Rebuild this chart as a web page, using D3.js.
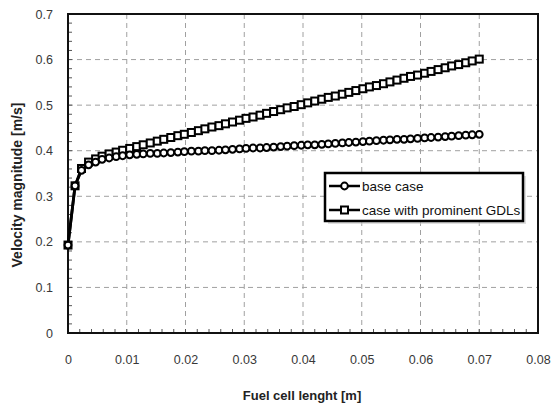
<!DOCTYPE html>
<html>
<head>
<meta charset="utf-8">
<script src="https://cdn.jsdelivr.net/npm/d3@7"></script>
<style>
  body { margin: 0; background: #fff; }
  svg { display: block; font-family: "Liberation Sans", Arial, sans-serif; }
</style>
</head>
<body>
<svg id="chart" width="552" height="409"></svg>
<script>
// fuel cell length positions [m]
const xPos = [0.0000, 0.0012, 0.0023, 0.0035, 0.0047, 0.0058, 0.0070, 0.0082, 0.0093, 0.0105,
  0.0117, 0.0128, 0.0140, 0.0152, 0.0163, 0.0175, 0.0187, 0.0198, 0.0210, 0.0222,
  0.0233, 0.0245, 0.0257, 0.0268, 0.0280, 0.0292, 0.0303, 0.0315, 0.0327, 0.0338,
  0.0350, 0.0362, 0.0373, 0.0385, 0.0397, 0.0408, 0.0420, 0.0432, 0.0443, 0.0455,
  0.0467, 0.0478, 0.0490, 0.0502, 0.0513, 0.0525, 0.0537, 0.0548, 0.0560, 0.0572,
  0.0583, 0.0595, 0.0607, 0.0618, 0.0630, 0.0642, 0.0653, 0.0665, 0.0677, 0.0688, 0.0700];

const baseCase = [0.193, 0.323, 0.357, 0.369, 0.375, 0.381, 0.384, 0.387, 0.389, 0.391,
  0.392, 0.393, 0.394, 0.394, 0.395, 0.396, 0.397, 0.398, 0.399, 0.399,
  0.400, 0.400, 0.401, 0.402, 0.403, 0.404, 0.405, 0.406, 0.406, 0.407,
  0.408, 0.409, 0.410, 0.411, 0.412, 0.413, 0.413, 0.414, 0.415, 0.416,
  0.417, 0.418, 0.419, 0.420, 0.421, 0.422, 0.423, 0.424, 0.425, 0.425,
  0.426, 0.427, 0.428, 0.429, 0.430, 0.431, 0.432, 0.433, 0.434, 0.435, 0.436];

const prominentGdl = [0.193, 0.323, 0.361, 0.375, 0.382, 0.388, 0.393, 0.397, 0.401, 0.405,
  0.409, 0.413, 0.417, 0.421, 0.425, 0.429, 0.433, 0.436, 0.440, 0.444,
  0.448, 0.452, 0.455, 0.459, 0.463, 0.467, 0.471, 0.474, 0.478, 0.482,
  0.486, 0.490, 0.494, 0.497, 0.501, 0.505, 0.509, 0.513, 0.517, 0.520,
  0.524, 0.528, 0.532, 0.536, 0.540, 0.543, 0.547, 0.551, 0.555, 0.559,
  0.563, 0.566, 0.570, 0.574, 0.578, 0.582, 0.586, 0.589, 0.593, 0.597, 0.601];

const xTicks = [0, 0.01, 0.02, 0.03, 0.04, 0.05, 0.06, 0.07, 0.08];
const yTicks = [0, 0.1, 0.2, 0.3, 0.4, 0.5, 0.6, 0.7];
const seriesNames = ["base case", "case with prominent GDLs"];

const svg = d3.select("#chart");
const margin = { top: 14, right: 14, bottom: 76, left: 68 };
const width = 552 - margin.left - margin.right,
  height = 409 - margin.top - margin.bottom;
const g = svg.append("g").attr("transform", "translate(" + margin.left + "," + margin.top + ")");

const x = d3.scaleLinear().domain([0, 0.08]).range([0, width]);
const y = d3.scaleLinear().domain([0, 0.7]).range([height, 0]);

// grid
g.append("g").selectAll("line")
  .data(xTicks.slice(1, -1)).enter().append("line")
  .attr("x1", d => x(d)).attr("x2", d => x(d))
  .attr("y1", 0).attr("y2", height)
  .attr("stroke", "#a0a0a0").attr("stroke-dasharray", "5,4");
g.append("g").selectAll("line")
  .data(yTicks.slice(1, -1)).enter().append("line")
  .attr("y1", d => y(d)).attr("y2", d => y(d))
  .attr("x1", 0).attr("x2", width)
  .attr("stroke", "#a0a0a0").attr("stroke-dasharray", "5,4");

// minor ticks pointing inside
const xMinor = d3.range(0, 41).map(i => i * 0.002);
g.append("g").selectAll("line")
  .data(xMinor).enter().append("line")
  .attr("x1", d => x(d)).attr("x2", d => x(d))
  .attr("y1", height).attr("y2", height - 4)
  .attr("stroke", "#555");
const yMinor = d3.range(0, 36).map(i => i * 0.02);
g.append("g").selectAll("line")
  .data(yMinor).enter().append("line")
  .attr("y1", d => y(d)).attr("y2", d => y(d))
  .attr("x1", 0).attr("x2", 4)
  .attr("stroke", "#555");

// frame
g.append("rect")
  .attr("width", width).attr("height", height)
  .attr("fill", "none").attr("stroke", "#111").attr("stroke-width", 2);

// tick labels
const yAxis = g.append("g")
  .call(d3.axisLeft(y).tickValues(yTicks).tickFormat(d3.format("")).tickSize(0).tickPadding(15));
const xAxis = g.append("g")
  .attr("transform", "translate(0," + height + ")")
  .call(d3.axisBottom(x).tickValues(xTicks).tickFormat(d3.format("")).tickSize(0).tickPadding(22));
[xAxis, yAxis].forEach(a => {
  a.select(".domain").remove();
  a.selectAll("text").attr("font-size", 12.5).attr("fill", "#383838")
    .attr("font-family", "Liberation Sans, Arial, sans-serif");
});

// axis titles
svg.append("text")
  .attr("x", 302).attr("y", 400)
  .attr("text-anchor", "middle").attr("font-size", 13).attr("font-weight", "bold")
  .attr("fill", "#222").text("Fuel cell lenght [m]");
svg.append("text")
  .attr("transform", "translate(22,185) rotate(-90)")
  .attr("text-anchor", "middle").attr("font-size", 14).attr("font-weight", "bold")
  .attr("fill", "#222").text("Velocity magnitude [m/s]");

// series
const line = d3.line().x((d, i) => x(xPos[i])).y(d => y(d));
const series = [baseCase, prominentGdl];
series.forEach(s => {
  g.append("path").datum(s)
    .attr("fill", "none").attr("stroke", "#000").attr("stroke-width", 2.8)
    .attr("stroke-linejoin", "round").attr("d", line);
});

g.selectAll(".sq").data(prominentGdl).enter().append("rect")
  .attr("x", (d, i) => x(xPos[i]) - 3.5).attr("y", d => y(d) - 3.5)
  .attr("width", 7).attr("height", 7)
  .attr("fill", "#fff").attr("stroke", "#000").attr("stroke-width", 2);

g.selectAll(".ci").data(baseCase).enter().append("circle")
  .attr("cx", (d, i) => x(xPos[i])).attr("cy", d => y(d)).attr("r", 3.4)
  .attr("fill", "#fff").attr("stroke", "#000").attr("stroke-width", 2);

// legend
const lg = svg.append("g").attr("transform", "translate(325,173)");
lg.append("rect").attr("x", 3).attr("y", 3).attr("width", 198).attr("height", 48)
  .attr("fill", "#c8c8c8").attr("opacity", 0.6);
lg.append("rect").attr("width", 198).attr("height", 48)
  .attr("fill", "#fff").attr("stroke", "#000").attr("stroke-width", 2.5);
seriesNames.forEach((name, i) => {
  const yy = 13 + i * 24;
  lg.append("line").attr("x1", 4).attr("x2", 35).attr("y1", yy).attr("y2", yy)
    .attr("stroke", "#000").attr("stroke-width", 2.5);
  if (i === 0) {
    lg.append("circle").attr("cx", 19.5).attr("cy", yy).attr("r", 3.4)
      .attr("fill", "#fff").attr("stroke", "#000").attr("stroke-width", 2);
  } else {
    lg.append("rect").attr("x", 16).attr("y", yy - 3.5).attr("width", 7).attr("height", 7)
      .attr("fill", "#fff").attr("stroke", "#000").attr("stroke-width", 2);
  }
  lg.append("text").attr("x", 37).attr("y", yy + 4.5)
    .attr("font-size", 13.5).attr("fill", "#111").text(name);
});
</script>
</body>
</html>
